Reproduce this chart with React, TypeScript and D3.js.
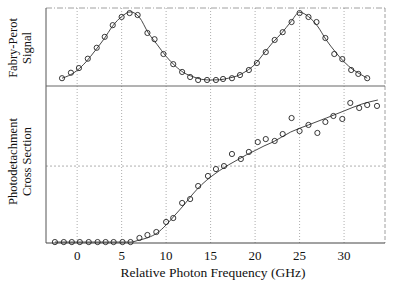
import React from "react";
import * as d3 from "d3";

// Top panel (Fabry-Perot signal) data points
const fpX = [-1.7, -0.7, 0.2, 1.2, 2.2, 3.1, 4.0, 5.0, 5.9, 6.8, 7.9, 8.7, 9.7, 10.8, 11.8, 12.7, 13.6, 14.6, 15.6, 16.4, 17.4, 18.3, 19.3, 20.2, 21.2, 22.2, 23.1, 24.1, 25.0, 26.0, 26.9, 27.9, 28.9, 29.8, 30.8, 31.6, 32.6];
const fpY = [0.10, 0.17, 0.23, 0.35, 0.49, 0.63, 0.78, 0.885, 0.935, 0.91, 0.68, 0.60, 0.41, 0.28, 0.18, 0.115, 0.077, 0.077, 0.077, 0.09, 0.10, 0.14, 0.205, 0.295, 0.435, 0.59, 0.69, 0.82, 0.935, 0.885, 0.82, 0.615, 0.41, 0.345, 0.205, 0.155, 0.10];

// Top panel fit curve
const fpFitX = [-1.7, -1, 0, 1, 2, 3, 4, 5, 6, 7, 8, 9, 10, 11, 12, 13, 14, 15, 16, 17, 18, 19, 20, 21, 22, 23, 24, 25, 26, 27, 28, 29, 30, 31, 32, 32.6];
const fpFitY = [0.10, 0.13, 0.20, 0.31, 0.45, 0.60, 0.77, 0.89, 0.95, 0.88, 0.68, 0.53, 0.38, 0.26, 0.17, 0.12, 0.085, 0.077, 0.08, 0.10, 0.13, 0.19, 0.28, 0.42, 0.56, 0.68, 0.82, 0.945, 0.89, 0.77, 0.59, 0.44, 0.31, 0.21, 0.14, 0.10];

// Bottom panel (photodetachment cross section) data points
const pdX = [-2.5, -1.5, -0.6, 0.3, 1.3, 2.3, 3.2, 4.1, 5.1, 6.0, 7.0, 7.9, 8.9, 10.0, 10.8, 11.8, 12.7, 13.6, 14.7, 15.6, 16.5, 17.4, 18.4, 19.3, 20.3, 21.2, 22.2, 23.1, 24.1, 25.0, 26.0, 27.0, 27.9, 28.8, 29.8, 30.7, 31.7, 32.6, 33.7];
const pdY = [0.006, 0.006, 0.006, 0.006, 0.006, 0.006, 0.006, 0.006, 0.006, 0.006, 0.032, 0.051, 0.07, 0.134, 0.159, 0.255, 0.28, 0.363, 0.427, 0.471, 0.49, 0.567, 0.535, 0.58, 0.643, 0.662, 0.65, 0.694, 0.796, 0.713, 0.752, 0.701, 0.771, 0.809, 0.79, 0.892, 0.86, 0.879, 0.873];

// Bottom panel fit curve
const pdFitX = [-2.5, 6, 7, 8, 9, 10, 11, 12, 13, 14, 15, 16, 17, 18, 19, 20, 21, 22, 24, 26, 28, 30, 32, 33.8];
const pdFitY = [0.006, 0.006, 0.019, 0.035, 0.064, 0.115, 0.178, 0.242, 0.312, 0.372, 0.420, 0.461, 0.497, 0.529, 0.561, 0.589, 0.618, 0.643, 0.707, 0.752, 0.796, 0.841, 0.885, 0.911];

const xTicks = [0, 5, 10, 15, 20, 25, 30];
const pdGrid = [0.49];

export default function App() {
  const W = 395, H = 289;
  const left = 46, right = 385, top = 8, mid = 86, bottom = 243;
  const x = d3.scaleLinear().domain([-3.5, 34.6]).range([left, right]);
  const yTop = d3.scaleLinear().domain([0, 1]).range([mid, top]);
  const yBot = d3.scaleLinear().domain([0, 1]).range([bottom, mid]);

  const lineTop = d3.line<number>().x((d, i) => x(fpFitX[i])).y((d) => yTop(d)).curve(d3.curveMonotoneX);
  const lineBot = d3.line<number>().x((d, i) => x(pdFitX[i])).y((d) => yBot(d)).curve(d3.curveMonotoneX);

  const fam = "'Liberation Serif', 'Times New Roman', Times, 'DejaVu Serif', serif";
  const tStyle: React.CSSProperties = { fontFamily: fam, fontSize: "12.5px" };
  const tickStyle: React.CSSProperties = { fontFamily: fam, fontSize: "13px" };
  const xlStyle: React.CSSProperties = { fontFamily: fam, fontSize: "13.5px" };
  const stroke = "#333";

  return (
    <svg width={W} height={H} style={{ position: "absolute", left: 0, top: 0, background: "#fff" }}>
      <rect x={0} y={0} width={W} height={H} fill="#fff" />
      {/* vertical grid */}
      {xTicks.map((t) => (
        <line key={"g" + t} x1={x(t)} x2={x(t)} y1={top} y2={bottom} stroke="#999" strokeWidth={0.8} strokeDasharray="1,2" />
      ))}
      {pdGrid.map((g) => (
        <line key={"h" + g} x1={left} x2={right} y1={yBot(g)} y2={yBot(g)} stroke="#999" strokeWidth={0.8} strokeDasharray="2,2" />
      ))}
      {/* frame */}
      <line x1={left} x2={right} y1={top} y2={top} stroke="#888" strokeWidth={0.8} strokeDasharray="6,2,1,2" />
      <line x1={right} x2={right} y1={top} y2={bottom} stroke="#888" strokeWidth={0.8} strokeDasharray="4,2" />
      <line x1={left} x2={left} y1={top} y2={bottom} stroke="#555" strokeWidth={1} />
      <line x1={left} x2={right} y1={mid} y2={mid} stroke="#666" strokeWidth={1} />
      <line x1={left} x2={right} y1={bottom} y2={bottom} stroke="#444" strokeWidth={1} />

      {/* fit curves */}
      <path d={lineTop(fpFitY) || ""} fill="none" stroke={stroke} strokeWidth={0.9} />
      <path d={lineBot(pdFitY) || ""} fill="none" stroke={stroke} strokeWidth={0.9} />

      {/* data points */}
      {fpY.map((v, i) => (
        <circle key={"t" + i} cx={x(fpX[i])} cy={yTop(v)} r={2.6} fill="none" stroke="#222" strokeWidth={0.9} />
      ))}
      {pdY.map((v, i) => (
        <circle key={"b" + i} cx={x(pdX[i])} cy={yBot(v)} r={2.6} fill="none" stroke="#222" strokeWidth={0.9} />
      ))}

      {/* x tick labels */}
      {xTicks.map((t) => (
        <text key={"l" + t} x={x(t)} y={259.5} textAnchor="middle" style={tickStyle} fill="#111">{t}</text>
      ))}
      <text x={213} y={276.5} textAnchor="middle" style={xlStyle} fill="#111">Relative Photon Frequency (GHz)</text>

      {/* y labels */}
      <text transform={`translate(17,${(top + mid) / 2 + 1}) rotate(-90)`} textAnchor="middle" style={tStyle} fill="#111">Fabry-Perot</text>
      <text transform={`translate(31,${(top + mid) / 2 + 1}) rotate(-90)`} textAnchor="middle" style={tStyle} fill="#111">Signal</text>
      <text transform={`translate(17,${(mid + bottom) / 2 - 3}) rotate(-90)`} textAnchor="middle" style={tStyle} fill="#111">Photodetachment</text>
      <text transform={`translate(31,${(mid + bottom) / 2 - 3}) rotate(-90)`} textAnchor="middle" style={tStyle} fill="#111">Cross Section</text>
    </svg>
  );
}
